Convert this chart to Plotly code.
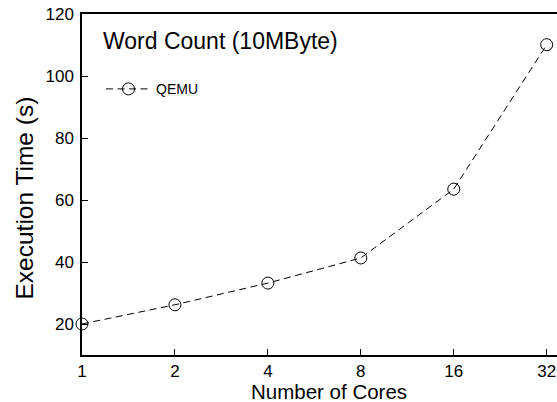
import math
import plotly.graph_objects as go

cores = [1, 2, 4, 8, 16, 32]
qemu_time = [20.0, 26.2, 33.2, 41.3, 63.5, 110.1]
x_ticks = [1, 2, 4, 8, 16, 32]
y_ticks = [20, 40, 60, 80, 100, 120]

W, H = 557, 402
L, R, T, B = 82, 0, 14, 47
PW, PH = W - L - R, H - T - B

fig = go.Figure()
fig.add_trace(go.Scatter(
    x=cores, y=qemu_time, name="QEMU", mode="lines+markers",
    line=dict(color="black", width=1, dash="7px,4.5px"),
    marker=dict(symbol="circle-open", size=12, color="black", line=dict(width=1)),
    cliponaxis=False,
))

fig.update_layout(
    width=W, height=H,
    margin=dict(l=L, r=R, t=T, b=B, autoexpand=False),
    paper_bgcolor="white", plot_bgcolor="white",
    font=dict(family="Liberation Sans, Arial, sans-serif", color="black"),
    showlegend=True,
    legend=dict(x=(101 - L) / PW, y=(H - B - 89.3) / PH, xanchor="left", yanchor="middle",
                bgcolor="rgba(0,0,0,0)", font=dict(size=14), itemwidth=45),
    annotations=[
        dict(text="Word Count (10MByte)", x=(101.3 - L) / PW, y=0.966,
             xref="paper", yref="paper", xanchor="left", yanchor="top",
             showarrow=False, font=dict(size=23)),
        dict(text="Number of Cores", x=(328.6 - L) / PW, y=(H - B - 391.5) / PH,
             xref="paper", yref="paper", xanchor="center", yanchor="middle",
             showarrow=False, font=dict(size=20.5)),
        dict(text="Execution Time (s)", x=(23.5 - L) / PW, y=(H - B - 198) / PH,
             xref="paper", yref="paper", xanchor="center", yanchor="middle",
             textangle=-90, showarrow=False, font=dict(size=24.5)),
    ],
)
fig.update_xaxes(
    type="log", range=[0, math.log10(32) * (W - L) / (546.7 - L)],
    tickvals=x_ticks, ticktext=[str(v) for v in x_ticks],
    ticks="inside", ticklen=6, tickwidth=1, tickcolor="black",
    showline=True, linecolor="black", linewidth=1.5, mirror=True,
    showgrid=False, zeroline=False, tickfont=dict(size=17), automargin=False,
)
fig.update_yaxes(
    range=[10, 120], tickvals=y_ticks,
    ticks="inside", ticklen=6, tickwidth=1, tickcolor="black",
    showline=True, linecolor="black", linewidth=1.5, mirror=False,
    showgrid=False, zeroline=False, tickfont=dict(size=17), automargin=False,
    ticklabelstandoff=3,
)
fig.write_html("out.html", config={"displayModeBar": False},
               post_script="document.body.style.margin='0';document.body.style.overflow='hidden';")
